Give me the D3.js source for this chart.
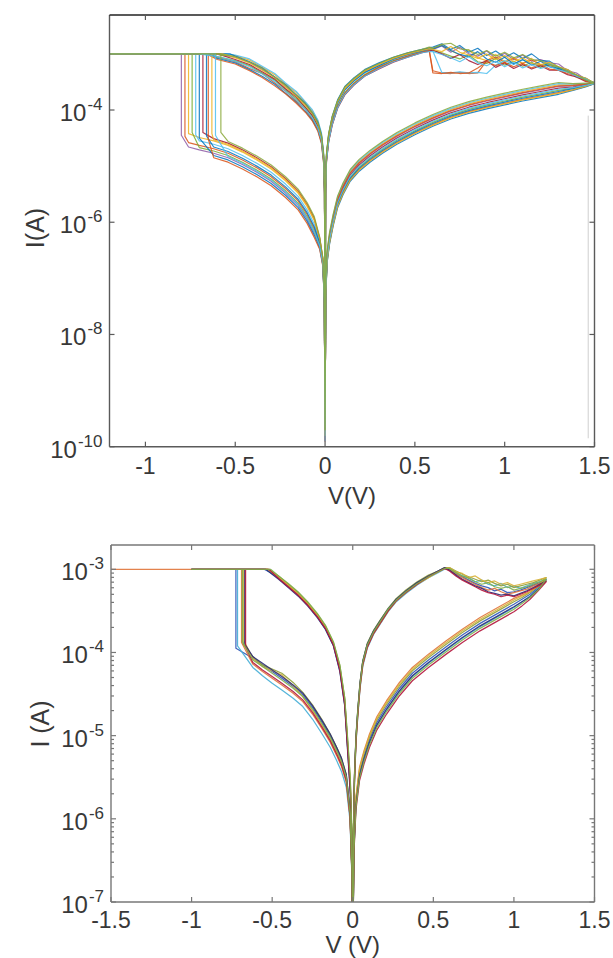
<!DOCTYPE html>
<html><head><meta charset="utf-8">
<script src="https://cdn.jsdelivr.net/npm/d3@7"></script>
<style>
body{margin:0;background:#fff}
svg{display:block}
text{font-family:"Liberation Sans",Arial,Helvetica,sans-serif;fill:#383838}
</style>
</head><body>
<svg id="c" width="613" height="958"></svg>
<script>
// ===================== DATA =====================
// All current values are log10(I / A). Voltages in V.
const complianceLog = -3;

// ---------- TOP PANEL ----------
const topXTicks = [-1, -0.5, 0, 0.5, 1, 1.5];
const topXTickLabels = ["-1", "-0.5", "0", "0.5", "1", "1.5"];
const topYTickExp = [-4, -6, -8, -10];
const topYTickLabels = ["-4", "-6", "-8", "-10"];
const topMinV = -1.2;
const topColors = ["#8e5aa6","#D95319","#EDB120","#77AC30","#4DBEEE","#0072BD","#A2142F","#0072BD","#D95319","#EDB120","#4DBEEE","#8aa83a"];

// HRS branch, negative sweep (0 -> set voltage)
const topHrsNegV = [0,-0.004,-0.012,-0.03,-0.06,-0.1,-0.15,-0.22,-0.3,-0.38,-0.46,-0.54,-0.62,-0.7,-0.76];
const topHrsNegI = [
 [-9.9,-7.44,-6.76,-6.43,-6.19,-5.94,-5.70,-5.48,-5.27,-5.11,-4.97,-4.85,-4.77,-4.71,-4.66],
 [-9.8,-7.42,-6.72,-6.39,-6.11,-5.86,-5.62,-5.40,-5.19,-5.03,-4.89,-4.77,-4.69,-4.63,-4.58],
 [-9.9,-7.38,-6.67,-6.30,-5.97,-5.72,-5.48,-5.26,-5.05,-4.89,-4.75,-4.63,-4.55,-4.49],
 [-9.7,-7.43,-6.74,-6.41,-6.15,-5.90,-5.66,-5.44,-5.23,-5.07,-4.93,-4.81,-4.73,-4.67],
 [-9.9,-7.39,-6.69,-6.34,-6.03,-5.78,-5.54,-5.32,-5.11,-4.95,-4.81,-4.69,-4.61,-4.55],
 [-9.8,-7.45,-6.77,-6.46,-6.23,-5.98,-5.74,-5.52,-5.31,-5.15,-5.01,-4.89,-4.81],
 [-9.9,-7.36,-6.65,-6.28,-5.93,-5.68,-5.44,-5.22,-5.01,-4.85,-4.71,-4.59,-4.51],
 [-9.6,-7.41,-6.71,-6.37,-6.08,-5.83,-5.59,-5.37,-5.16,-5.00,-4.86,-4.74,-4.66],
 [-9.9,-7.47,-6.79,-6.48,-6.27,-6.02,-5.78,-5.56,-5.35,-5.19,-5.05,-4.93,-4.85],
 [-9.8,-7.37,-6.66,-6.29,-5.95,-5.70,-5.46,-5.24,-5.03,-4.87,-4.73,-4.61,-4.53],
 [-9.9,-7.44,-6.75,-6.42,-6.17,-5.92,-5.68,-5.46,-5.25,-5.09,-4.95,-4.83],
 [-9.7,-7.36,-6.64,-6.26,-5.90,-5.65,-5.41,-5.19,-4.98,-4.82,-4.68,-4.56]
];
const topSetV = [-0.80,-0.78,-0.76,-0.74,-0.72,-0.70,-0.68,-0.66,-0.65,-0.63,-0.61,-0.58];
const topSetI = [-4.45,-4.47,-4.42,-4.40,-4.44,-4.50,-4.40,-4.46,-4.52,-4.42,-4.45,-4.40];

// LRS branch, return of negative sweep (compliance -> 0)
const topDepartV = [-0.72,-0.62,-0.58,-0.68,-0.55,-0.64,-0.60,-0.53,-0.66,-0.57,-0.70,-0.60];
const topLrsNegV = [-0.6,-0.5,-0.42,-0.35,-0.28,-0.22,-0.16,-0.11,-0.07,-0.04,-0.02,-0.008,-0.003,0];
const topLrsNegI = [
 [-3.01,-3.06,-3.15,-3.28,-3.41,-3.58,-3.74,-3.90,-4.07,-4.24,-4.47,-4.82,-5.38,-9.9],
 [-3.06,-3.14,-3.26,-3.35,-3.52,-3.66,-3.84,-3.98,-4.16,-4.33,-4.55,-4.90,-5.45,-9.8],
 [-3.00,-3.03,-3.11,-3.24,-3.37,-3.54,-3.69,-3.87,-4.02,-4.20,-4.43,-4.78,-5.33,-9.9],
 [-3.05,-3.12,-3.21,-3.34,-3.47,-3.64,-3.80,-3.96,-4.12,-4.30,-4.52,-4.87,-5.42,-9.7],
 [-3.00,-3.02,-3.09,-3.22,-3.35,-3.52,-3.67,-3.85,-4.00,-4.18,-4.41,-4.76,-5.30,-9.9],
 [-3.08,-3.16,-3.28,-3.40,-3.54,-3.70,-3.86,-4.02,-4.18,-4.36,-4.58,-4.93,-5.48,-9.8],
 [-3.04,-3.10,-3.19,-3.32,-3.45,-3.62,-3.77,-3.95,-4.10,-4.28,-4.50,-4.85,-5.40,-9.9],
 [-3.00,-3.04,-3.14,-3.25,-3.41,-3.55,-3.73,-3.88,-4.05,-4.22,-4.45,-4.80,-5.35,-9.6],
 [-3.10,-3.18,-3.30,-3.42,-3.57,-3.71,-3.88,-4.04,-4.20,-4.38,-4.60,-4.95,-5.50,-9.9],
 [-3.02,-3.07,-3.16,-3.29,-3.42,-3.59,-3.75,-3.92,-4.07,-4.25,-4.48,-4.83,-5.38,-9.8],
 [-3.05,-3.13,-3.23,-3.36,-3.49,-3.66,-3.82,-3.98,-4.14,-4.32,-4.54,-4.89,-5.44,-9.9],
 [-3.01,-3.05,-3.15,-3.26,-3.42,-3.56,-3.74,-3.89,-4.06,-4.23,-4.46,-4.81,-5.36,-9.7]
];

// LRS branch, positive sweep (0 -> reset onset)
const topLrsPosV = [0.003,0.008,0.02,0.04,0.07,0.11,0.16,0.22,0.3,0.38,0.46,0.54,0.58];
const topLrsPosI = [
 [-5.38,-4.82,-4.46,-4.15,-3.86,-3.63,-3.47,-3.32,-3.20,-3.10,-3.00,-2.94,-2.91],
 [-5.45,-4.90,-4.55,-4.25,-3.95,-3.71,-3.54,-3.39,-3.25,-3.13,-3.05,-2.97,-2.94],
 [-5.36,-4.80,-4.44,-4.13,-3.84,-3.60,-3.45,-3.30,-3.18,-3.07,-2.99,-2.93,-2.90],
 [-5.42,-4.88,-4.52,-4.22,-3.93,-3.69,-3.52,-3.37,-3.23,-3.12,-3.04,-2.97,-2.94],
 [-5.40,-4.84,-4.49,-4.18,-3.89,-3.65,-3.49,-3.34,-3.21,-3.10,-3.02,-2.96,-2.93],
 [-5.35,-4.78,-4.42,-4.11,-3.82,-3.58,-3.43,-3.28,-3.16,-3.06,-2.98,-2.92,-2.89],
 [-5.48,-4.92,-4.57,-4.27,-3.97,-3.73,-3.56,-3.40,-3.27,-3.15,-3.06,-2.98,-2.95],
 [-5.39,-4.83,-4.47,-4.17,-3.87,-3.64,-3.48,-3.33,-3.21,-3.09,-3.01,-2.95,-2.92],
 [-5.44,-4.89,-4.54,-4.24,-3.94,-3.70,-3.53,-3.38,-3.24,-3.13,-3.04,-2.97,-2.94],
 [-5.37,-4.81,-4.45,-4.14,-3.85,-3.62,-3.46,-3.31,-3.19,-3.08,-3.00,-2.94,-2.91],
 [-5.46,-4.91,-4.56,-4.26,-3.96,-3.72,-3.55,-3.40,-3.26,-3.14,-3.06,-2.98,-2.96],
 [-5.36,-4.79,-4.43,-4.12,-3.83,-3.59,-3.44,-3.29,-3.17,-3.06,-2.98,-2.92,-2.88]
];

// Gradual (noisy) reset, positive sweep up to 1.5 V
const topResetV = [0.6,0.65,0.7,0.75,0.8,0.85,0.9,0.95,1.0,1.05,1.1,1.15,1.2,1.25,1.3,1.35,1.4,1.45,1.5];
const topResetI = [
 [-2.92,-2.86,-2.97,-2.88,-3.00,-3.04,-2.95,-3.08,-2.99,-3.10,-3.02,-3.13,-3.10,-3.16,-3.18,-3.30,-3.34,-3.45,-3.52],
 [-3.30,-3.34,-3.35,-3.33,-3.35,-3.34,-3.12,-3.06,-3.15,-3.08,-3.17,-3.11,-3.19,-3.21,-3.26,-3.29,-3.39,-3.45,-3.53],
 [-2.90,-2.84,-2.94,-3.02,-2.93,-3.07,-3.12,-3.01,-3.14,-3.06,-3.17,-3.08,-3.20,-3.17,-3.26,-3.28,-3.42,-3.46,-3.51],
 [-2.94,-2.98,-3.04,-3.09,-3.02,-3.14,-3.17,-3.08,-3.20,-3.13,-3.22,-3.15,-3.24,-3.18,-3.27,-3.31,-3.39,-3.44,-3.52],
 [-2.95,-3.33,-3.34,-3.32,-3.34,-3.33,-3.35,-3.20,-3.12,-3.19,-3.11,-3.17,-3.21,-3.17,-3.25,-3.31,-3.41,-3.45,-3.52],
 [-2.88,-2.82,-2.92,-2.85,-2.97,-2.90,-3.03,-2.95,-3.06,-2.98,-3.08,-3.00,-3.12,-3.13,-3.24,-3.28,-3.39,-3.43,-3.53],
 [-2.93,-3.00,-3.08,-3.01,-3.12,-3.19,-3.12,-3.24,-3.16,-3.26,-3.19,-3.27,-3.21,-3.29,-3.29,-3.37,-3.41,-3.49,-3.52],
 [-2.91,-2.85,-2.94,-3.01,-3.05,-2.96,-3.09,-3.15,-3.06,-3.18,-3.10,-3.20,-3.13,-3.23,-3.26,-3.32,-3.38,-3.47,-3.51],
 [-3.34,-3.35,-3.33,-3.35,-3.34,-3.25,-3.14,-3.21,-3.15,-3.23,-3.17,-3.25,-3.19,-3.27,-3.29,-3.35,-3.39,-3.48,-3.52],
 [-2.92,-2.96,-2.87,-2.97,-3.02,-3.08,-3.00,-3.10,-3.03,-3.14,-3.07,-3.17,-3.19,-3.15,-3.23,-3.28,-3.38,-3.43,-3.52],
 [-2.96,-3.01,-3.07,-3.14,-3.05,-3.16,-3.21,-3.13,-3.23,-3.15,-3.25,-3.19,-3.26,-3.22,-3.29,-3.32,-3.40,-3.45,-3.53],
 [-2.90,-2.83,-2.81,-2.91,-2.93,-3.01,-2.94,-3.04,-2.97,-3.07,-3.01,-3.10,-3.12,-3.19,-3.23,-3.32,-3.37,-3.46,-3.52]
];

// HRS branch, return of positive sweep (1.5 V -> 0)
const topHrsPosV = [1.45,1.38,1.3,1.2,1.1,1.0,0.9,0.8,0.7,0.6,0.5,0.4,0.32,0.25,0.19,0.14,0.1,0.07,0.045,0.025,0.012,0.004,0];
const topHrsPosI = [
 [-3.54,-3.57,-3.58,-3.64,-3.70,-3.77,-3.84,-3.92,-4.02,-4.15,-4.30,-4.47,-4.63,-4.79,-4.95,-5.13,-5.37,-5.60,-5.93,-6.25,-6.57,-7.15,-9.9],
 [-3.58,-3.64,-3.69,-3.75,-3.81,-3.88,-3.95,-4.03,-4.13,-4.26,-4.41,-4.58,-4.74,-4.90,-5.06,-5.24,-5.48,-5.71,-6.04,-6.36,-6.68,-7.26,-9.8],
 [-3.54,-3.55,-3.55,-3.61,-3.67,-3.74,-3.81,-3.89,-3.99,-4.12,-4.27,-4.44,-4.60,-4.76,-4.92,-5.10,-5.34,-5.57,-5.90,-6.22,-6.54,-7.12,-9.9],
 [-3.57,-3.61,-3.65,-3.71,-3.77,-3.84,-3.91,-3.99,-4.09,-4.22,-4.37,-4.54,-4.70,-4.86,-5.02,-5.20,-5.44,-5.67,-6.00,-6.32,-6.64,-7.22,-9.7],
 [-3.53,-3.54,-3.53,-3.59,-3.65,-3.72,-3.79,-3.87,-3.97,-4.10,-4.25,-4.42,-4.58,-4.74,-4.90,-5.08,-5.32,-5.55,-5.88,-6.20,-6.52,-7.10,-9.9],
 [-3.59,-3.65,-3.72,-3.78,-3.84,-3.91,-3.98,-4.06,-4.16,-4.29,-4.44,-4.61,-4.77,-4.93,-5.09,-5.27,-5.51,-5.74,-6.07,-6.39,-6.71,-7.29,-9.8],
 [-3.55,-3.59,-3.61,-3.67,-3.73,-3.80,-3.87,-3.95,-4.05,-4.18,-4.33,-4.50,-4.66,-4.82,-4.98,-5.16,-5.40,-5.63,-5.96,-6.28,-6.60,-7.18,-9.9],
 [-3.57,-3.62,-3.67,-3.73,-3.79,-3.86,-3.93,-4.01,-4.11,-4.24,-4.39,-4.56,-4.72,-4.88,-5.04,-5.22,-5.46,-5.69,-6.02,-6.34,-6.66,-7.24,-9.6],
 [-3.54,-3.56,-3.57,-3.63,-3.69,-3.76,-3.83,-3.91,-4.01,-4.14,-4.29,-4.46,-4.62,-4.78,-4.94,-5.12,-5.36,-5.59,-5.92,-6.24,-6.56,-7.14,-9.9],
 [-3.58,-3.64,-3.70,-3.76,-3.82,-3.89,-3.96,-4.04,-4.14,-4.27,-4.42,-4.59,-4.75,-4.91,-5.07,-5.25,-5.49,-5.72,-6.05,-6.37,-6.69,-7.27,-9.8],
 [-3.56,-3.60,-3.63,-3.69,-3.75,-3.82,-3.89,-3.97,-4.07,-4.20,-4.35,-4.52,-4.68,-4.84,-5.00,-5.18,-5.42,-5.65,-5.98,-6.30,-6.62,-7.20,-9.9],
 [-3.52,-3.53,-3.51,-3.57,-3.63,-3.70,-3.77,-3.85,-3.95,-4.08,-4.23,-4.40,-4.56,-4.72,-4.88,-5.06,-5.30,-5.53,-5.86,-6.18,-6.50,-7.08,-9.7]
];
// faint vertical artefact line seen near the right edge of the top panel
const topArtefactV = [1.465, 1.465];
const topArtefactI = [-4.1, -9.85];

// ---------- BOTTOM PANEL ----------
const botXTicks = [-1.5, -1, -0.5, 0, 0.5, 1, 1.5];
const botXTickLabels = ["-1.5", "-1", "-0.5", "0", "0.5", "1", "1.5"];
const botYTickExp = [-3, -4, -5, -6, -7];
const botYTickLabels = ["-3", "-4", "-5", "-6", "-7"];
const botColors = ["#2f55b8","#45aed6","#e0743a","#8f9e37","#d8b23a","#2a2a78","#b3163c","#7fae4a"];
const botMinV = [-1.0,-1.0,-1.5,-1.0,-1.0,-1.0,-1.0,-1.0];

const botHrsNegV = [0,-0.006,-0.017,-0.04,-0.07,-0.1,-0.14,-0.19,-0.25,-0.31,-0.37,-0.44,-0.5,-0.56,-0.62];
const botHrsNegI = [
 [-7.6,-6.58,-5.92,-5.49,-5.29,-5.16,-5.00,-4.84,-4.66,-4.51,-4.41,-4.31,-4.23,-4.15,-4.07],
 [-7.6,-6.65,-6.02,-5.62,-5.43,-5.30,-5.14,-4.98,-4.80,-4.65,-4.55,-4.45,-4.37,-4.28,-4.18],
 [-7.6,-6.62,-5.98,-5.56,-5.37,-5.24,-5.08,-4.92,-4.74,-4.59,-4.49,-4.39,-4.31,-4.23,-4.14],
 [-7.6,-6.56,-5.90,-5.47,-5.27,-5.14,-4.98,-4.81,-4.63,-4.48,-4.36,-4.25,-4.20,-4.15,-4.05],
 [-7.6,-6.60,-5.95,-5.52,-5.33,-5.20,-5.04,-4.88,-4.70,-4.53,-4.40,-4.27,-4.22,-4.17,-4.07],
 [-7.6,-6.57,-5.90,-5.47,-5.27,-5.14,-4.98,-4.82,-4.64,-4.49,-4.39,-4.29,-4.21,-4.13,-4.05],
 [-7.6,-6.61,-5.97,-5.54,-5.35,-5.22,-5.06,-4.90,-4.72,-4.57,-4.47,-4.37,-4.29,-4.21,-4.12],
 [-7.6,-6.59,-5.93,-5.50,-5.31,-5.18,-5.02,-4.86,-4.68,-4.53,-4.43,-4.33,-4.25,-4.17,-4.09]
];
const botSetV = [-0.725,-0.715,-0.69,-0.68,-0.675,-0.67,-0.665,-0.685];
const botSetI = [-3.95,-3.92,-3.88,-3.90,-3.86,-3.90,-3.93,-3.87];

const botDepartV = [-0.55,-0.54,-0.53,-0.52,-0.53,-0.54,-0.52,-0.51];
const botLrsNegV = [-0.46,-0.4,-0.34,-0.28,-0.22,-0.17,-0.12,-0.08,-0.05,-0.03,-0.015,-0.006,0];
const botLrsNegI = [
 [-3.09,-3.19,-3.29,-3.41,-3.55,-3.69,-3.89,-4.18,-4.57,-5.15,-5.62,-6.20,-7.6],
 [-3.11,-3.21,-3.31,-3.43,-3.57,-3.72,-3.92,-4.22,-4.63,-5.22,-5.66,-6.25,-7.6],
 [-3.10,-3.20,-3.30,-3.42,-3.56,-3.70,-3.90,-4.20,-4.60,-5.18,-5.60,-6.20,-7.6],
 [-3.08,-3.18,-3.28,-3.40,-3.54,-3.68,-3.88,-4.16,-4.55,-5.10,-5.55,-6.15,-7.6],
 [-3.09,-3.19,-3.29,-3.41,-3.55,-3.70,-3.90,-4.19,-4.58,-5.14,-5.58,-6.18,-7.6],
 [-3.12,-3.22,-3.32,-3.44,-3.58,-3.72,-3.92,-4.23,-4.64,-5.24,-5.70,-6.28,-7.6],
 [-3.11,-3.21,-3.31,-3.43,-3.57,-3.71,-3.91,-4.21,-4.62,-5.20,-5.65,-6.24,-7.6],
 [-3.08,-3.17,-3.27,-3.39,-3.53,-3.67,-3.87,-4.15,-4.54,-5.08,-5.52,-6.12,-7.6]
];

const botLrsPosV = [0.004,0.011,0.02,0.031,0.045,0.062,0.09,0.13,0.17,0.22,0.27,0.33,0.4,0.47,0.53,0.57];
const botLrsPosI = [
 [-6.18,-5.48,-5.03,-4.71,-4.38,-4.11,-3.90,-3.74,-3.62,-3.47,-3.36,-3.26,-3.16,-3.08,-3.02,-2.99],
 [-6.25,-5.55,-5.10,-4.78,-4.44,-4.17,-3.95,-3.78,-3.66,-3.51,-3.39,-3.29,-3.19,-3.10,-3.04,-3.00],
 [-6.20,-5.50,-5.05,-4.73,-4.40,-4.13,-3.92,-3.76,-3.64,-3.49,-3.37,-3.27,-3.17,-3.09,-3.03,-2.99],
 [-6.15,-5.45,-5.00,-4.69,-4.36,-4.10,-3.89,-3.73,-3.61,-3.47,-3.35,-3.25,-3.15,-3.07,-3.02,-2.98],
 [-6.22,-5.52,-5.07,-4.75,-4.42,-4.15,-3.93,-3.77,-3.65,-3.50,-3.38,-3.28,-3.18,-3.10,-3.03,-2.99],
 [-6.17,-5.47,-5.02,-4.70,-4.37,-4.11,-3.90,-3.74,-3.62,-3.48,-3.36,-3.26,-3.16,-3.08,-3.02,-2.98],
 [-6.23,-5.53,-5.08,-4.76,-4.42,-4.15,-3.94,-3.77,-3.65,-3.50,-3.38,-3.28,-3.18,-3.09,-3.03,-2.99],
 [-6.19,-5.49,-5.04,-4.72,-4.39,-4.12,-3.91,-3.75,-3.63,-3.48,-3.37,-3.27,-3.17,-3.09,-3.03,-2.99]
];

const botResetV = [0.6,0.64,0.68,0.72,0.76,0.8,0.84,0.88,0.92,0.96,1.0,1.04,1.08,1.12,1.16,1.2];
const botResetI = [
 [-3.01,-3.06,-3.09,-3.13,-3.17,-3.20,-3.22,-3.26,-3.24,-3.28,-3.27,-3.25,-3.22,-3.19,-3.16,-3.12],
 [-3.00,-3.04,-3.08,-3.10,-3.15,-3.13,-3.18,-3.20,-3.17,-3.22,-3.20,-3.23,-3.20,-3.17,-3.15,-3.12],
 [-3.00,-3.05,-3.10,-3.14,-3.18,-3.22,-3.25,-3.23,-3.27,-3.30,-3.28,-3.26,-3.24,-3.20,-3.17,-3.14],
 [-2.98,-3.02,-3.06,-3.09,-3.12,-3.15,-3.13,-3.17,-3.20,-3.18,-3.22,-3.20,-3.18,-3.16,-3.13,-3.10],
 [-2.98,-3.03,-3.05,-3.10,-3.08,-3.13,-3.16,-3.14,-3.18,-3.16,-3.20,-3.18,-3.16,-3.14,-3.12,-3.10],
 [-3.01,-3.07,-3.12,-3.16,-3.20,-3.23,-3.27,-3.29,-3.31,-3.30,-3.32,-3.29,-3.26,-3.22,-3.18,-3.14],
 [-3.02,-3.08,-3.13,-3.17,-3.21,-3.25,-3.28,-3.30,-3.33,-3.31,-3.33,-3.30,-3.27,-3.23,-3.19,-3.15],
 [-2.99,-3.04,-3.08,-3.11,-3.15,-3.18,-3.16,-3.21,-3.23,-3.21,-3.25,-3.23,-3.21,-3.18,-3.15,-3.12]
];

const botHrsPosV = [1.15,1.1,1.05,1.0,0.9,0.79,0.68,0.58,0.47,0.37,0.29,0.21,0.15,0.104,0.07,0.042,0.02,0.008,0];
const botHrsPosI = [
 [-3.22,-3.30,-3.36,-3.42,-3.53,-3.65,-3.79,-3.93,-4.09,-4.25,-4.43,-4.65,-4.84,-5.05,-5.25,-5.45,-5.80,-6.30,-7.6],
 [-3.23,-3.32,-3.39,-3.46,-3.57,-3.69,-3.83,-3.97,-4.13,-4.29,-4.47,-4.69,-4.88,-5.09,-5.29,-5.49,-5.84,-6.34,-7.6],
 [-3.21,-3.27,-3.31,-3.35,-3.46,-3.58,-3.72,-3.86,-4.02,-4.18,-4.36,-4.58,-4.77,-4.98,-5.18,-5.38,-5.73,-6.23,-7.6],
 [-3.20,-3.28,-3.34,-3.39,-3.50,-3.62,-3.76,-3.90,-4.06,-4.22,-4.40,-4.62,-4.81,-5.02,-5.22,-5.42,-5.77,-6.27,-7.6],
 [-3.20,-3.27,-3.32,-3.37,-3.48,-3.60,-3.74,-3.88,-4.04,-4.20,-4.38,-4.60,-4.79,-5.00,-5.20,-5.40,-5.75,-6.25,-7.6],
 [-3.24,-3.33,-3.39,-3.45,-3.56,-3.68,-3.82,-3.96,-4.12,-4.28,-4.46,-4.68,-4.87,-5.08,-5.28,-5.48,-5.83,-6.33,-7.6],
 [-3.26,-3.36,-3.44,-3.51,-3.62,-3.74,-3.88,-4.02,-4.18,-4.34,-4.52,-4.74,-4.93,-5.14,-5.34,-5.54,-5.89,-6.39,-7.6],
 [-3.25,-3.34,-3.41,-3.48,-3.59,-3.71,-3.85,-3.99,-4.15,-4.31,-4.49,-4.71,-4.90,-5.11,-5.31,-5.51,-5.86,-6.36,-7.6]
];

// ===================== DRAWING =====================
const svg = d3.select("#c");
const toI = e => Math.pow(10, e);

function branch(pts, V, I, keep) {
  const n = Math.min(V.length, I.length);
  for (let k = 0; k < n; k++) if (!keep || keep(V[k])) pts.push([V[k], I[k]]);
}

function drawPanel(cfg) {
  const {left, right, top, bottom, xDomain, yTopExp, yBotExp} = cfg;
  const x = d3.scaleLinear().domain(xDomain).range([left, right]);
  const y = d3.scaleLog().domain([toI(yBotExp), toI(yTopExp)]).range([bottom, top]);
  const g = svg.append("g");
  const clipId = "clip" + cfg.id;
  svg.append("defs").append("clipPath").attr("id", clipId)
    .append("rect").attr("x", left).attr("y", top).attr("width", right - left).attr("height", bottom - top);

  const line = d3.line().x(d => x(d[0])).y(d => y(toI(d[1])));
  const plot = g.append("g").attr("clip-path", `url(#${clipId})`);

  if (cfg.artefact) {
    plot.append("path")
      .attr("d", line(cfg.artefact))
      .attr("fill", "none").attr("stroke", "#cfcfcf").attr("stroke-width", 1);
  }

  cfg.cycles.forEach(c => {
    plot.append("path")
      .attr("d", line(c.pts))
      .attr("fill", "none")
      .attr("stroke", c.color)
      .attr("stroke-width", cfg.lw)
      .attr("stroke-opacity", cfg.op)
      .attr("stroke-linejoin", "round");
  });

  // frame
  const fr = g.append("g");
  fr.append("line").attr("x1", left).attr("x2", right).attr("y1", bottom).attr("y2", bottom);
  fr.append("line").attr("x1", left).attr("x2", left).attr("y1", top).attr("y2", bottom);
  fr.append("line").attr("x1", right).attr("x2", right).attr("y1", top).attr("y2", bottom);
  fr.selectAll("line").attr("stroke", cfg.frame).attr("stroke-width", 1.4);
  fr.append("line").attr("x1", left).attr("x2", right).attr("y1", top).attr("y2", top)
    .attr("stroke", cfg.frameTop).attr("stroke-width", 1.6);

  // x ticks (inward, bottom and top)
  const tk = g.append("g").attr("stroke", cfg.frame).attr("stroke-width", 1.2);
  cfg.xTicks.forEach(v => {
    const px = x(v);
    tk.append("line").attr("x1", px).attr("x2", px).attr("y1", bottom).attr("y2", bottom - 5);
    tk.append("line").attr("x1", px).attr("x2", px).attr("y1", top).attr("y2", top + 5);
  });
  // y ticks
  cfg.yTickExp.forEach(e => {
    const py = y(toI(e));
    tk.append("line").attr("x1", left).attr("x2", left + 5).attr("y1", py).attr("y2", py);
    tk.append("line").attr("x1", right).attr("x2", right - 5).attr("y1", py).attr("y2", py);
  });
  if (cfg.minor) {
    for (let e = yBotExp; e < Math.ceil(yTopExp); e++) {
      [2,3,4,5,6,7,8,9].forEach(m => {
        const val = m * toI(e);
        if (val > toI(yTopExp)) return;
        const py = y(val);
        tk.append("line").attr("x1", left).attr("x2", left + 3).attr("y1", py).attr("y2", py);
        tk.append("line").attr("x1", right).attr("x2", right - 3).attr("y1", py).attr("y2", py);
      });
    }
  }

  // x tick labels
  cfg.xTicks.forEach((v, i) => {
    g.append("text").attr("x", x(v)).attr("y", bottom + cfg.xLabOff)
      .attr("text-anchor", "middle").attr("font-size", 23).text(cfg.xTickLabels[i]);
  });
  // y tick labels 10^e
  cfg.yTickExp.forEach((e, i) => {
    const py = y(toI(e));
    const t = g.append("text").attr("x", left - 7).attr("y", py + 11)
      .attr("text-anchor", "end").attr("font-size", 24);
    t.append("tspan").text("10");
    t.append("tspan").attr("dy", -11).attr("dx", 1).attr("font-size", 17).text(cfg.yTickLabels[i]);
  });
  // titles
  g.append("text").attr("x", (left + right) / 2).attr("y", cfg.xTitleY)
    .attr("text-anchor", "middle").attr("font-size", 24).text(cfg.xTitle);
  g.append("text").attr("transform", `translate(${cfg.yTitleX},${cfg.yTitleY}) rotate(-90)`)
    .attr("text-anchor", "middle").attr("font-size", 25).text(cfg.yTitle);
}

// build top cycles
const topCycles = topSetV.map((sv, i) => {
  const pts = [];
  branch(pts, topHrsNegV, topHrsNegI[i], v => v > sv);
  pts.push([sv, topSetI[i]]);
  pts.push([sv, complianceLog]);
  pts.push([topMinV, complianceLog]);
  pts.push([topDepartV[i], complianceLog]);
  branch(pts, topLrsNegV, topLrsNegI[i], v => v > topDepartV[i]);
  branch(pts, topLrsPosV, topLrsPosI[i]);
  branch(pts, topResetV, topResetI[i]);
  branch(pts, topHrsPosV, topHrsPosI[i]);
  return {pts, color: topColors[i]};
});

const botCycles = botSetV.map((sv, i) => {
  const pts = [];
  branch(pts, botHrsNegV, botHrsNegI[i], v => v > sv);
  pts.push([sv, botSetI[i]]);
  pts.push([sv, complianceLog]);
  pts.push([botMinV[i], complianceLog]);
  pts.push([botDepartV[i], complianceLog]);
  branch(pts, botLrsNegV, botLrsNegI[i], v => v > botDepartV[i]);
  branch(pts, botLrsPosV, botLrsPosI[i]);
  branch(pts, botResetV, botResetI[i]);
  branch(pts, botHrsPosV, botHrsPosI[i]);
  return {pts, color: botColors[i]};
});

drawPanel({
  id: "top", left: 109.5, right: 594.5, top: 15, bottom: 446.7,
  xDomain: [-1.2, 1.5], yTopExp: -2.307, yBotExp: -10,
  xTicks: topXTicks, xTickLabels: topXTickLabels,
  yTickExp: topYTickExp, yTickLabels: topYTickLabels,
  minor: false, cycles: topCycles, lw: 1.2, op: 0.85,
  frame: "#5a5a5a", frameTop: "#222",
  xLabOff: 27, xTitle: "V(V)", xTitleY: 504,
  yTitle: "I(A)", yTitleX: 44, yTitleY: 228,
  artefact: topArtefactV.map((v, k) => [v, topArtefactI[k]])
});

drawPanel({
  id: "bot", left: 111, right: 594.5, top: 545, bottom: 902,
  xDomain: [-1.5, 1.5], yTopExp: -2.708, yBotExp: -7,
  xTicks: botXTicks, xTickLabels: botXTickLabels,
  yTickExp: botYTickExp, yTickLabels: botYTickLabels,
  minor: true, cycles: botCycles, lw: 1.25, op: 0.9,
  frame: "#777", frameTop: "#777",
  xLabOff: 26, xTitle: "V (V)", xTitleY: 953,
  yTitle: "I (A)", yTitleX: 49, yTitleY: 724
});
</script>
</body></html>
